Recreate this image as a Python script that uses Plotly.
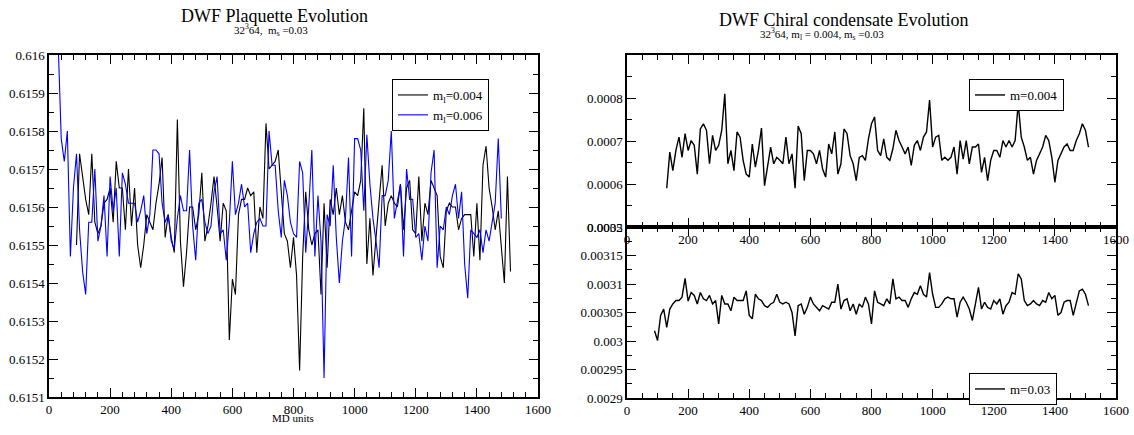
import plotly.graph_objects as go

# ---------------- data ----------------
# Plaquette, m_l = 0.004 (black), samples every 10 MD units starting at 90
plaq_ml004_start = 90
plaq_ml004 = [
    0.61550, 0.61574, 0.61568, 0.61562, 0.61558, 0.61574, 0.61556, 0.61553, 0.61555, 0.61561,
    0.61562, 0.61565, 0.61556, 0.61572, 0.61565, 0.61565, 0.61554, 0.61570, 0.61555, 0.61565,
    0.61550, 0.61544, 0.61550, 0.61558, 0.61556, 0.61554, 0.61561, 0.61566, 0.61573, 0.61552,
    0.61558, 0.61552, 0.61548, 0.61583, 0.61551, 0.61539, 0.61548, 0.61560, 0.61560, 0.61554,
    0.61558, 0.61569, 0.61551, 0.61555, 0.61561, 0.61568, 0.61560, 0.61551, 0.61561, 0.61559,
    0.61525, 0.61541, 0.61537, 0.61558, 0.61562, 0.61562, 0.61565, 0.61563, 0.61564, 0.61548,
    0.61560, 0.61557, 0.61582, 0.61570, 0.61571, 0.61572, 0.61575, 0.61564, 0.61553, 0.61551,
    0.61544, 0.61552, 0.61542, 0.61517, 0.61547, 0.61564, 0.61554, 0.61550, 0.61553, 0.61554,
    0.61537, 0.61561, 0.61544, 0.61562, 0.61558, 0.61565, 0.61558, 0.61563, 0.61556, 0.61554,
    0.61559, 0.61564, 0.61563, 0.61567, 0.61586, 0.61545, 0.61557, 0.61542, 0.61552, 0.61561,
    0.61571, 0.61555, 0.61561, 0.61563, 0.61561, 0.61560, 0.61566, 0.61554, 0.61565, 0.61567,
    0.61554, 0.61553, 0.61568, 0.61551, 0.61561, 0.61558, 0.61567, 0.61565, 0.61563, 0.61547,
    0.61544, 0.61559, 0.61561, 0.61560, 0.61560, 0.61554, 0.61557, 0.61558, 0.61558, 0.61558,
    0.61547, 0.61561, 0.61546, 0.61571, 0.61576, 0.61565, 0.61560, 0.61554, 0.61559, 0.61550,
    0.61540, 0.61568, 0.61543,
]

# Plaquette, m_l = 0.006 (blue), samples every 10 MD units starting at 30
plaq_ml006_start = 30
plaq_ml006 = [
    0.61603, 0.61578, 0.61572, 0.61580, 0.61547, 0.61565, 0.61574, 0.61554, 0.61543, 0.61537,
    0.61556, 0.61556, 0.61570, 0.61551, 0.61555, 0.61563, 0.61547, 0.61568, 0.61559, 0.61565,
    0.61547, 0.61569, 0.61566, 0.61561, 0.61561, 0.61561, 0.61556, 0.61559, 0.61563, 0.61553,
    0.61558, 0.61575, 0.61575, 0.61574, 0.61561, 0.61556, 0.61558, 0.61551, 0.61549, 0.61557,
    0.61563, 0.61559, 0.61559, 0.61575, 0.61555, 0.61546, 0.61561, 0.61562, 0.61556, 0.61553,
    0.61555, 0.61564, 0.61568, 0.61553, 0.61554, 0.61546, 0.61556, 0.61572, 0.61558, 0.61561,
    0.61566, 0.61560, 0.61561, 0.61548, 0.61553, 0.61556, 0.61557, 0.61555, 0.61555, 0.61580,
    0.61571, 0.61571, 0.61559, 0.61552, 0.61567, 0.61563, 0.61556, 0.61553, 0.61552, 0.61572,
    0.61569, 0.61548, 0.61560, 0.61575, 0.61547, 0.61563, 0.61551, 0.61515, 0.61558, 0.61555,
    0.61571, 0.61552, 0.61540, 0.61551, 0.61557, 0.61573, 0.61547, 0.61578, 0.61578, 0.61575,
    0.61559, 0.61579, 0.61566, 0.61557, 0.61551, 0.61544, 0.61563, 0.61563, 0.61567, 0.61580,
    0.61557, 0.61561, 0.61566, 0.61547, 0.61570, 0.61562, 0.61562, 0.61552, 0.61553, 0.61546,
    0.61555, 0.61551, 0.61569, 0.61575, 0.61544, 0.61555, 0.61554, 0.61560, 0.61558, 0.61563,
    0.61566, 0.61557, 0.61564, 0.61545, 0.61536, 0.61554, 0.61553, 0.61552, 0.61554, 0.61548,
    0.61554, 0.61551, 0.61556, 0.61561, 0.61578, 0.61557,
]

# Chiral condensate, m = 0.004, samples every 10 MD units starting at 130
pbp_m004_start = 130
pbp_m004 = [
    0.000590, 0.000674, 0.000631, 0.000678, 0.000709, 0.000662, 0.000717, 0.000678, 0.000701, 0.000690,
    0.000623, 0.000728, 0.000740, 0.000725, 0.000647, 0.000713, 0.000678, 0.000690, 0.000725, 0.000810,
    0.000647, 0.000678, 0.000631, 0.000721, 0.000709, 0.000655, 0.000623, 0.000616, 0.000693, 0.000639,
    0.000678, 0.000730, 0.000596, 0.000647, 0.000686, 0.000647, 0.000662, 0.000655, 0.000647, 0.000709,
    0.000647, 0.000670, 0.000590, 0.000735, 0.000717, 0.000608, 0.000678, 0.000678, 0.000670, 0.000647,
    0.000678, 0.000635, 0.000616, 0.000693, 0.000670, 0.000721, 0.000623, 0.000647, 0.000728, 0.000717,
    0.000666, 0.000647, 0.000608, 0.000662, 0.000666, 0.000655, 0.000705, 0.000740, 0.000756, 0.000678,
    0.000666, 0.000705, 0.000662, 0.000655, 0.000682, 0.000725, 0.000701, 0.000686, 0.000670, 0.000686,
    0.000643, 0.000690, 0.000701, 0.000678, 0.000709, 0.000721, 0.000795, 0.000686, 0.000709, 0.000713,
    0.000655, 0.000662, 0.000655, 0.000662, 0.000686, 0.000623, 0.000701, 0.000658, 0.000701, 0.000647,
    0.000686, 0.000686, 0.000693, 0.000627, 0.000662, 0.000608, 0.000655, 0.000678, 0.000678, 0.000662,
    0.000701, 0.000686, 0.000701, 0.000686, 0.000701, 0.000787, 0.000709, 0.000686, 0.000655, 0.000662,
    0.000623, 0.000655, 0.000670, 0.000686, 0.000713, 0.000701, 0.000662, 0.000604, 0.000655, 0.000670,
    0.000686, 0.000693, 0.000678, 0.000678, 0.000701, 0.000717, 0.000740, 0.000725, 0.000686,
]

# Chiral condensate, m = 0.03, samples every 10 MD units starting at 90
pbp_m03_start = 90
pbp_m03 = [
    0.003018, 0.003001, 0.003045, 0.003056, 0.003024, 0.003056, 0.003065, 0.003071, 0.003071, 0.003077,
    0.003110, 0.003070, 0.003085, 0.003080, 0.003065, 0.003085, 0.003074, 0.003071, 0.003080, 0.003065,
    0.003071, 0.003030, 0.003080, 0.003065, 0.003065, 0.003053, 0.003077, 0.003071, 0.003071, 0.003071,
    0.003088, 0.003045, 0.003039, 0.003082, 0.003074, 0.003071, 0.003062, 0.003059, 0.003065, 0.003068,
    0.003082, 0.003068, 0.003065, 0.003068, 0.003065, 0.003050, 0.003009, 0.003062, 0.003065, 0.003047,
    0.003059, 0.003077, 0.003065, 0.003059, 0.003053, 0.003062, 0.003059, 0.003056, 0.003068, 0.003068,
    0.003100, 0.003056, 0.003071, 0.003074, 0.003053, 0.003065, 0.003047, 0.003065, 0.003059, 0.003077,
    0.003065, 0.003030, 0.003088, 0.003068, 0.003065, 0.003062, 0.003074, 0.003065, 0.003109, 0.003074,
    0.003077, 0.003071, 0.003071, 0.003059, 0.003074, 0.003085, 0.003082, 0.003097, 0.003082, 0.003077,
    0.003120, 0.003082, 0.003059, 0.003059, 0.003065, 0.003074, 0.003077, 0.003074, 0.003074, 0.003042,
    0.003068, 0.003077, 0.003068, 0.003056, 0.003036, 0.003062, 0.003094, 0.003056, 0.003068, 0.003059,
    0.003056, 0.003071, 0.003065, 0.003074, 0.003047, 0.003062, 0.003068, 0.003085, 0.003082, 0.003118,
    0.003109, 0.003071, 0.003062, 0.003065, 0.003071, 0.003065, 0.003062, 0.003071, 0.003068, 0.003085,
    0.003074, 0.003080, 0.003045, 0.003050, 0.003068, 0.003071, 0.003071, 0.003045, 0.003068, 0.003088,
    0.003091, 0.003082, 0.003062,
]
md_step = 10

# tick labels
md_ticks = [0, 200, 400, 600, 800, 1000, 1200, 1400, 1600]
plaq_ticks = [0.6151, 0.6152, 0.6153, 0.6154, 0.6155, 0.6156, 0.6157, 0.6158, 0.6159, 0.616]
plaq_ticktext = ["0.6151", "0.6152", "0.6153", "0.6154", "0.6155", "0.6156", "0.6157", "0.6158", "0.6159", "0.616"]
pbp1_ticks = [0.0005, 0.0006, 0.0007, 0.0008]
pbp1_ticktext = ["0.0005", "0.0006", "0.0007", "0.0008"]
pbp2_ticks = [0.0029, 0.00295, 0.003, 0.00305, 0.0031, 0.00315, 0.0032]
pbp2_ticktext = ["0.0029", "0.00295", "0.003", "0.00305", "0.0031", "0.00315", "0.0032"]


def md_axis(start, n):
    return [start + md_step * i for i in range(n)]


FONT = "Liberation Serif"
W, H = 1134, 435


def px_x(p):
    return p / W


def px_y(p):
    return 1 - p / H


fig = go.Figure()

fig.add_trace(go.Scatter(x=md_axis(plaq_ml004_start, len(plaq_ml004)), y=plaq_ml004,
                         mode="lines", line=dict(color="black", width=1.1),
                         name="m<sub>l</sub>=0.004", xaxis="x", yaxis="y", legend="legend"))
fig.add_trace(go.Scatter(x=md_axis(plaq_ml006_start, len(plaq_ml006)), y=plaq_ml006,
                         mode="lines", line=dict(color="#0000ff", width=1.1),
                         name="m<sub>l</sub>=0.006", xaxis="x", yaxis="y", legend="legend"))
fig.add_trace(go.Scatter(x=md_axis(pbp_m004_start, len(pbp_m004)), y=pbp_m004,
                         mode="lines", line=dict(color="black", width=1.4),
                         name="m=0.004", xaxis="x2", yaxis="y2", legend="legend2"))
fig.add_trace(go.Scatter(x=md_axis(pbp_m03_start, len(pbp_m03)), y=pbp_m03,
                         mode="lines", line=dict(color="black", width=1.4),
                         name="m=0.03", xaxis="x3", yaxis="y3", legend="legend3"))

tickfont = dict(family=FONT, size=13, color="black")


def xaxis(domain, anchor, minor_dtick):
    return dict(domain=domain, anchor=anchor, range=[0, 1600], automargin=False,
                tickmode="array", tickvals=md_ticks, ticktext=[str(t) for t in md_ticks],
                ticks="inside", ticklen=9, tickwidth=1, tickcolor="black",
                minor=dict(ticks="inside", ticklen=5, tickwidth=1, tickcolor="black",
                           tickmode="linear", tick0=0, dtick=minor_dtick),
                showline=True, linecolor="black", linewidth=1.5, mirror="allticks",
                showgrid=False, zeroline=False, tickfont=tickfont)


def yaxis(domain, anchor, rng, vals, text, minor_dtick, tick0):
    return dict(domain=domain, anchor=anchor, range=rng, automargin=False,
                tickmode="array", tickvals=vals, ticktext=text,
                ticks="inside", ticklen=9, tickwidth=1, tickcolor="black",
                minor=dict(ticks="inside", ticklen=5, tickwidth=1, tickcolor="black",
                           tickmode="linear", tick0=tick0, dtick=minor_dtick),
                showline=True, linecolor="black", linewidth=1.5, mirror="allticks",
                showgrid=False, zeroline=False, tickfont=tickfont)


left_dom_x = [px_x(49), px_x(538)]
right_dom_x = [px_x(627), px_x(1116)]

fig.update_layout(
    width=W, height=H, autosize=False,
    margin=dict(l=0, r=0, t=0, b=0, pad=0, autoexpand=False),
    paper_bgcolor="white", plot_bgcolor="white",
    font=dict(family=FONT, color="black"),
    xaxis=xaxis(left_dom_x, "y", 40),
    yaxis=yaxis([px_y(397), px_y(55)], "x", [0.6151, 0.616], plaq_ticks, plaq_ticktext, 0.00005, 0.6151),
    xaxis2=xaxis(right_dom_x, "y2", 50),
    yaxis2=yaxis([px_y(227), px_y(55)], "x2", [0.0005, 0.0009], pbp1_ticks, pbp1_ticktext, 0.00005, 0.0005),
    xaxis3=xaxis(right_dom_x, "y3", 50),
    yaxis3=yaxis([px_y(398), px_y(227)], "x3", [0.0029, 0.0032], pbp2_ticks, pbp2_ticktext, 0.000025, 0.0029),
    legend=dict(x=px_x(392), y=px_y(79), xanchor="left", yanchor="top",
                bordercolor="black", borderwidth=1, bgcolor="white",
                font=dict(family=FONT, size=13), tracegroupgap=0, itemwidth=30),
    legend2=dict(x=px_x(969), y=px_y(79), xanchor="left", yanchor="top",
                 bordercolor="black", borderwidth=1, bgcolor="white",
                 font=dict(family=FONT, size=13), itemwidth=30),
    legend3=dict(x=px_x(969), y=px_y(373), xanchor="left", yanchor="top",
                 bordercolor="black", borderwidth=1, bgcolor="white",
                 font=dict(family=FONT, size=13), itemwidth=30),
    showlegend=True,
)

annotations = [
    dict(text="DWF Plaquette Evolution", x=px_x(274), y=px_y(16), font=dict(size=18)),
    dict(text="32<sup>3</sup>64,  m<sub>s</sub> =0.03", x=px_x(271), y=px_y(30), font=dict(size=11)),
    dict(text="DWF Chiral condensate Evolution", x=px_x(843), y=px_y(20), font=dict(size=18)),
    dict(text="32<sup>3</sup>64, m<sub>l</sub> = 0.004, m<sub>s</sub> =0.03", x=px_x(822), y=px_y(34), font=dict(size=11)),
    dict(text="MD units", x=px_x(293), y=px_y(418), font=dict(size=11)),
]
for a in annotations:
    a.update(xref="paper", yref="paper", showarrow=False, xanchor="center", yanchor="middle")
    a["font"].update(family=FONT, color="black")
fig.update_layout(annotations=annotations)

fig.write_html("out.html",
               config={"displayModeBar": False},
               post_script="document.body.style.margin='0';document.body.style.overflow='hidden';")
